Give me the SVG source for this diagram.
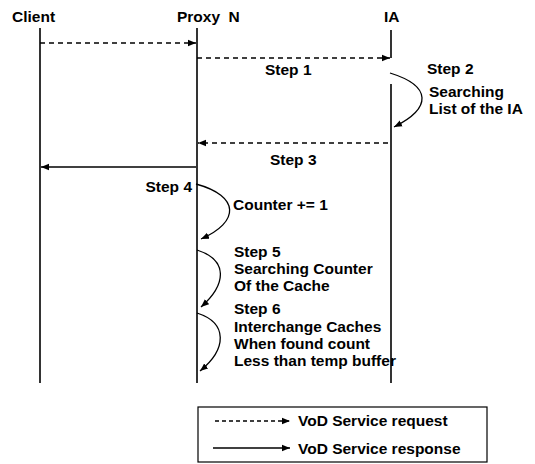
<svg xmlns="http://www.w3.org/2000/svg" width="535" height="464" viewBox="0 0 535 464">
<style>
  text { font-family: "Liberation Sans", Arial, sans-serif; font-weight: bold; font-size: 15.5px; fill: #000; }
  .life { stroke: #000; stroke-width: 1.6; fill: none; }
  .req { stroke: #000; stroke-width: 1.3; stroke-dasharray: 5 4; fill: none; }
  .resp { stroke: #000; stroke-width: 1.4; fill: none; }
  .curve { stroke: #000; stroke-width: 1.3; fill: none; }
</style>
<defs>
  <marker id="ah" viewBox="0 0 10 10" refX="10" refY="5" markerWidth="8" markerHeight="8" markerUnits="userSpaceOnUse" orient="auto">
    <path d="M0,1 L10,5 L0,9 Z" fill="#000"/>
  </marker>
</defs>
<rect width="535" height="464" fill="#fff"/>

<g id="client">
  <text x="12" y="22">Client</text>
  <line class="life" x1="40" y1="28" x2="40" y2="383"/>
</g>
<g id="proxy">
  <text x="177" y="22" word-spacing="4">Proxy N</text>
  <line class="life" x1="197" y1="28" x2="197" y2="383"/>
</g>
<g id="ia">
  <text x="384" y="22">IA</text>
  <line class="life" x1="391" y1="30" x2="391" y2="58"/>
  <line class="life" x1="391" y1="84" x2="391" y2="383"/>
</g>

<g id="connectors">
  <line class="req" x1="40" y1="43" x2="196" y2="43" marker-end="url(#ah)"/>
  <line class="req" x1="197" y1="58" x2="390" y2="58" marker-end="url(#ah)"/>
  <line class="req" x1="388" y1="143" x2="198" y2="143" marker-end="url(#ah)"/>
  <line class="resp" x1="196" y1="167" x2="41" y2="167" marker-end="url(#ah)"/>
  <path class="curve" d="M390,73 C432,86 432,108 394,127" marker-end="url(#ah)"/>
  <path class="curve" d="M196,184 C240,196 240,222 201,239" marker-end="url(#ah)"/>
  <path class="curve" d="M197,250 C228,260 227,284 201,307" marker-end="url(#ah)"/>
  <path class="curve" d="M197,313 C228,323 227,349 200,371" marker-end="url(#ah)"/>
</g>

<g id="labels">
  <text x="265" y="75">Step 1</text>
  <text x="427" y="74">Step 2</text>
  <text x="429" y="97">Searching</text>
  <text x="429" y="114">List of the IA</text>
  <text x="270" y="165">Step 3</text>
  <text x="192" y="192" text-anchor="end">Step 4</text>
  <text x="233" y="210">Counter += 1</text>
  <text x="234" y="257">Step 5</text>
  <text x="234" y="274">Searching Counter</text>
  <text x="234" y="291">Of the Cache</text>
  <text x="234" y="314">Step 6</text>
  <text x="234" y="332">Interchange Caches</text>
  <text x="234" y="349">When found count</text>
  <text x="234" y="366">Less than temp buffer</text>
</g>

<g id="legend">
  <rect x="198" y="407" width="289" height="55" fill="none" stroke="#000" stroke-width="1.2"/>
  <line x1="215" y1="421" x2="290" y2="421" stroke="#000" stroke-width="1.3" stroke-dasharray="4 3" marker-end="url(#ah)"/>
  <line x1="213" y1="448" x2="290" y2="448" stroke="#000" stroke-width="1.3" marker-end="url(#ah)"/>
  <text x="298" y="426">VoD Service request</text>
  <text x="298" y="454">VoD Service response</text>
</g>
</svg>
